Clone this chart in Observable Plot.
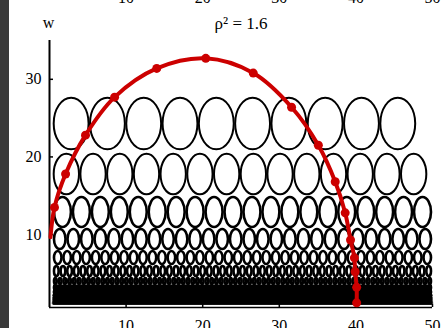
<!DOCTYPE html>
<html>
<head>
<meta charset="utf-8">
<script src="https://cdn.jsdelivr.net/npm/d3@7"></script>
<script src="https://cdn.jsdelivr.net/npm/@observablehq/plot@0.6"></script>
<style>
  html, body { margin: 0; padding: 0; background: #fff; }
  #chart { width: 446px; height: 328px; overflow: hidden; }
</style>
</head>
<body>
<div id="chart"></div>
<script>
// Labels and ticks
const titleText = "ρ² = 1.6";
const yLabel = "w";
const xTicks = [10, 20, 30, 40, 50];
const yTicks = [10, 20, 30];
const xDomain = [0, 50];
const yDomain = [0.6, 35];

// Ellipse rows: ellipses per row, w at top and bottom of each row, x extent of each row
const rowCount  = [10, 14, 20, 28, 40, 57, 80, 113, 160, 226, 320, 452, 640];
const rowTop    = [27.65, 20.44, 14.90, 10.78, 7.94, 6.01, 4.47, 3.43, 2.79, 2.27, 1.89, 1.50, 1.24];
const rowBottom = [20.83, 15.03, 10.78, 7.94, 6.01, 4.47, 3.43, 2.79, 2.27, 1.89, 1.50, 1.24, 0.99];
const rowStart  = [0.52, 0.52, 0.52, 0.52, 0.52, 0.52, 0.52, 0.52, 0.52, 0.52, 0.52, 0.52, 0.52];
const rowEnd    = [47.9, 49.35, 50, 50, 50, 50, 50, 50, 50, 50, 50, 50, 50];

// Trajectory samples (x, w)
const pathX = [0.13, 0.65, 2.1, 4.7, 8.5, 14.0, 20.4, 26.6, 31.6, 35.1, 37.3, 38.6, 39.3, 39.8, 39.9, 40.1, 40.1];
const pathY = [9.66, 13.5, 17.8, 22.8, 27.7, 31.4, 32.7, 30.8, 26.4, 21.5, 16.8, 12.8, 9.3, 7.0, 5.2, 3.2, 1.2];
const path = pathX.map((x, i) => ({x, y: pathY[i]}));

const red = "#cc0000";

// Dark page edge along the left side of the figure, reaching from the svg's left edge
function pageEdge(index, {x}, values, {height, marginLeft}) {
  return d3.create("svg:path")
    .attr("d", `M0,0H${marginLeft - 40}V${height}H0Z`)
    .attr("fill", "#3a3a3a")
    .node();
}

// Draws each row of ellipses side by side, sized from the row extents through the scales;
// the thinnest rows are so packed that they merge into solid black
function ellipseRows(index, {x, y}) {
  const g = d3.create("svg:g").attr("stroke", "black");
  rowCount.forEach((n, r) => {
    const x0 = x(rowStart[r]), x1 = x(rowEnd[r]);
    const y0 = y(rowTop[r]), y1 = y(rowBottom[r]);
    const h = y1 - y0;
    const step = (x1 - x0) / n;
    const sw = r < 2 ? 2 : 2.6;
    const rx = Math.max(step / 2 - sw / 2 + 0.3, 0.3);
    const ry = Math.max(h / 2 - sw / 2 + 0.3, 0.3);
    const cy = (y0 + y1) / 2;
    const dense = h < 7;
    const row = g.append("g")
      .attr("stroke-width", sw)
      .attr("fill", dense ? "black" : "none");
    if (dense) {
      row.append("rect")
        .attr("x", x0).attr("y", y0 - 0.5)
        .attr("width", x1 - x0).attr("height", h + 1)
        .attr("stroke", "none");
    }
    for (let i = 0; i < n; ++i) {
      row.append("ellipse")
        .attr("cx", x0 + step * (i + 0.5))
        .attr("cy", cy)
        .attr("rx", rx)
        .attr("ry", ry);
    }
  });
  return g.node();
}

const chart = Plot.plot({
  width: 446,
  height: 328,
  marginLeft: 49,
  marginRight: 14,
  marginTop: 40,
  marginBottom: 21,
  x: {domain: xDomain},
  y: {domain: yDomain},
  style: {
    fontFamily: "'Liberation Serif', serif",
    fontSize: "16px",
    color: "black",
    background: "white"
  },
  marks: [
    ellipseRows,
    Plot.ruleX([xDomain[0]], {stroke: "black", strokeWidth: 2}),
    Plot.ruleY([yDomain[0]], {stroke: "black", strokeWidth: 1.5}),
    Plot.axisY(yTicks, {tickSize: -4, tickPadding: 12, label: null, strokeWidth: 1.5}),
    Plot.axisX(xTicks, {tickSize: -3, tickPadding: 15, label: null, strokeWidth: 1.5}),
    Plot.text([titleText], {text: d => d, frameAnchor: "top", dy: -16.5, lineAnchor: "middle", fontSize: 17}),
    Plot.text([yLabel], {text: d => d, frameAnchor: "top-left", dx: -1, dy: -18, lineAnchor: "middle", textAnchor: "middle"}),
    // tick labels of the panel above, just peeking in at the top edge
    Plot.text(xTicks, {x: d => d, text: d => String(d), frameAnchor: "top", dy: -43, lineAnchor: "middle"}),
    Plot.line(path, {x: "x", y: "y", curve: "catmull-rom", stroke: red, strokeWidth: 4}),
    Plot.dot(path, {x: "x", y: "y", filter: (d, i) => i > 0, r: 4.5, fill: red, stroke: null}),
    pageEdge
  ]
});

document.getElementById("chart").appendChild(chart);
</script>
</body>
</html>
